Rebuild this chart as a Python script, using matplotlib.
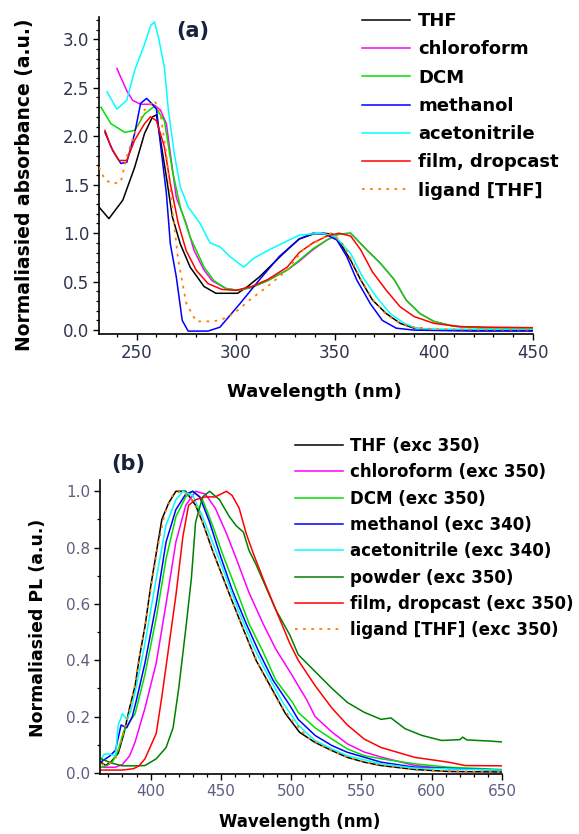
import numpy as np
import matplotlib
matplotlib.use("Agg")
import matplotlib.pyplot as plt
from matplotlib.ticker import MultipleLocator

plt.rcParams["font.family"] = ["DejaVu Sans"]

# ---------------- (a) absorbance ----------------
abs_labels = ["THF", "chloroform", "DCM", "methanol", "acetonitrile",
              "film, dropcast", "ligand [THF]"]

thf_wl = [231, 236, 243, 249, 254, 258, 260, 265, 268, 272, 277, 284, 290, 301, 306, 312,
          318, 324, 332, 339, 344, 349, 353, 358, 363, 369, 376, 383, 390, 400, 420, 450]
thf_abs = [1.27, 1.15, 1.34, 1.68, 2.03, 2.20, 2.22, 1.58, 1.17, 0.89, 0.65, 0.45, 0.38, 0.38,
           0.45, 0.55, 0.67, 0.79, 0.94, 0.99, 1.00, 0.99, 0.89, 0.72, 0.52, 0.31, 0.17, 0.07,
           0.02, 0.005, 0.0, 0.0]

chl_wl = [240, 245, 248, 252, 257, 259, 262, 265, 267, 270, 275, 279, 284, 288, 295, 301, 308,
          316, 326, 332, 339, 346, 352, 358, 366, 373, 380, 386, 393, 400, 410, 425, 450]
chl_abs = [2.70, 2.47, 2.37, 2.33, 2.33, 2.32, 2.27, 2.13, 1.82, 1.37, 1.10, 0.82, 0.62, 0.51,
           0.43, 0.41, 0.44, 0.51, 0.62, 0.71, 0.83, 0.93, 0.99, 1.00, 0.83, 0.69, 0.52, 0.31,
           0.17, 0.09, 0.04, 0.025, 0.02]

dcm_wl = [232, 237, 244, 249, 254, 259, 264, 268, 272, 277, 284, 289, 295, 301, 308, 316, 326,
          332, 339, 346, 352, 358, 366, 373, 380, 386, 393, 400, 410, 425, 450]
dcm_abs = [2.30, 2.13, 2.04, 2.06, 2.23, 2.31, 2.16, 1.65, 1.27, 0.96, 0.65, 0.51, 0.43, 0.41,
           0.44, 0.51, 0.62, 0.72, 0.84, 0.93, 0.99, 1.00, 0.83, 0.69, 0.52, 0.31, 0.17, 0.09,
           0.04, 0.02, 0.015]

meoh_wl = [234, 238, 242, 245, 249, 252, 255, 257, 260, 262, 265, 267, 270, 273, 276, 280, 286,
           292, 302, 312, 322, 332, 339, 345, 351, 356, 361, 368, 374, 381, 390, 420, 450]
meoh_abs = [2.04, 1.85, 1.72, 1.73, 2.03, 2.34, 2.39, 2.35, 2.28, 1.92, 1.41, 0.89, 0.55, 0.10,
            -0.01, -0.01, -0.01, 0.03, 0.27, 0.52, 0.76, 0.94, 1.00, 0.99, 0.93, 0.76, 0.52,
            0.27, 0.10, 0.02, 0.0, -0.01, -0.01]

acn_wl = [235, 240, 245, 249, 254, 257, 259, 261, 264, 266, 269, 272, 276, 282, 287, 292, 297,
          304, 309, 316, 322, 332, 343, 350, 358, 364, 371, 378, 385, 391, 400, 420, 450]
acn_abs = [2.46, 2.28, 2.37, 2.68, 2.95, 3.14, 3.18, 3.02, 2.71, 2.27, 1.82, 1.48, 1.27, 1.10,
           0.90, 0.86, 0.76, 0.65, 0.74, 0.82, 0.88, 0.98, 1.00, 0.97, 0.79, 0.55, 0.34, 0.17,
           0.07, 0.02, 0.01, 0.01, 0.01]

film_wl = [234, 237, 241, 245, 249, 254, 257, 260, 264, 267, 271, 275, 280, 286, 293, 300, 308,
           316, 326, 332, 339, 346, 352, 358, 363, 369, 376, 383, 390, 400, 413, 430, 450]
film_abs = [2.06, 1.89, 1.75, 1.75, 1.96, 2.13, 2.20, 2.16, 1.89, 1.51, 1.10, 0.82, 0.62, 0.48,
            0.42, 0.41, 0.45, 0.52, 0.65, 0.80, 0.90, 0.97, 1.00, 0.97, 0.83, 0.60, 0.41, 0.24,
            0.14, 0.07, 0.036, 0.03, 0.025]

lig_wl = [231, 234, 238, 242, 245, 249, 254, 259, 262, 265, 268, 271, 275, 280, 286, 292, 299,
          307, 316, 326, 334, 343, 348, 353, 358, 363, 369, 376, 383, 390, 400, 420, 450]
lig_abs = [1.68, 1.55, 1.51, 1.53, 1.79, 2.03, 2.27, 2.37, 2.23, 1.82, 1.24, 0.72, 0.28, 0.09,
           0.09, 0.10, 0.17, 0.31, 0.45, 0.62, 0.83, 0.94, 1.00, 0.92, 0.74, 0.53, 0.32, 0.16,
           0.07, 0.03, 0.01, 0.005, 0.005]

# ---------------- (b) photoluminescence ----------------
pl_labels = ["THF (exc 350)", "chloroform (exc 350)", "DCM (exc 350)", "methanol (exc 340)",
             "acetonitrile (exc 340)", "powder (exc 350)", "film, dropcast (exc 350)",
             "ligand [THF] (exc 350)"]

thf_pl_wl = [365, 368, 372, 377, 381, 385, 389, 392, 396, 400, 404, 408, 413, 418, 425, 432, 437,
             444, 451, 458, 466, 475, 485, 496, 506, 517, 529, 540, 552, 564, 588, 612, 650]
thf_pl = [0.037, 0.026, 0.04, 0.07, 0.14, 0.23, 0.31, 0.41, 0.52, 0.66, 0.78, 0.90, 0.96, 1.00,
          1.00, 0.95, 0.89, 0.79, 0.70, 0.61, 0.51, 0.40, 0.31, 0.21, 0.144, 0.108, 0.079, 0.055,
          0.038, 0.026, 0.012, 0.005, 0.003]

chl_pl_wl = [365, 375, 380, 385, 389, 396, 404, 411, 418, 425, 432, 439, 446, 454, 461, 470, 480,
             489, 499, 505, 511, 517, 529, 540, 552, 564, 588, 612, 650]
chl_pl = [0.02, 0.02, 0.03, 0.06, 0.11, 0.23, 0.39, 0.60, 0.82, 0.95, 1.00, 0.99, 0.94, 0.85,
          0.76, 0.64, 0.53, 0.44, 0.36, 0.31, 0.26, 0.20, 0.145, 0.103, 0.074, 0.056, 0.026,
          0.015, 0.01]

dcm_pl_wl = [365, 369, 373, 377, 381, 385, 389, 396, 404, 411, 418, 425, 430, 437, 444, 451, 461,
             470, 480, 489, 501, 505, 517, 529, 540, 552, 564, 588, 612, 650]
dcm_pl = [0.02, 0.026, 0.04, 0.08, 0.15, 0.18, 0.21, 0.35, 0.55, 0.76, 0.91, 0.98, 1.00, 0.97,
          0.88, 0.78, 0.65, 0.53, 0.43, 0.33, 0.25, 0.215, 0.16, 0.12, 0.085, 0.061, 0.05, 0.032,
          0.02, 0.012]

meoh_pl_wl = [365, 371, 375, 379, 383, 387, 390, 396, 404, 411, 418, 425, 430, 435, 442, 449, 458,
              468, 477, 487, 499, 505, 517, 529, 540, 564, 588, 650]
meoh_pl = [0.04, 0.06, 0.08, 0.17, 0.16, 0.20, 0.26, 0.39, 0.60, 0.82, 0.935, 0.99, 1.00, 0.98,
           0.89, 0.78, 0.65, 0.53, 0.43, 0.33, 0.24, 0.19, 0.133, 0.097, 0.073, 0.038, 0.02, 0.01]

acn_pl_wl = [365, 367, 371, 375, 377, 380, 383, 386, 390, 396, 404, 411, 418, 423, 430, 437, 444,
             454, 463, 473, 482, 494, 505, 517, 529, 540, 564, 588, 650]
acn_pl = [0.05, 0.067, 0.067, 0.06, 0.17, 0.21, 0.19, 0.22, 0.31, 0.46, 0.69, 0.88, 0.97, 1.00,
          0.985, 0.91, 0.82, 0.69, 0.57, 0.45, 0.36, 0.25, 0.17, 0.115, 0.085, 0.061, 0.032,
          0.017, 0.01]

pow_pl_wl = [365, 372, 380, 390, 396, 404, 411, 416, 420, 425, 429, 432, 437, 442, 449, 456, 461,
             466, 470, 475, 482, 489, 499, 505, 517, 529, 540, 552, 564, 571, 581, 593, 607, 620,
             622, 625, 641, 650]
pow_pl = [0.05, 0.035, 0.025, 0.025, 0.026, 0.05, 0.09, 0.16, 0.30, 0.51, 0.69, 0.89, 0.98, 1.00,
          0.97, 0.91, 0.877, 0.855, 0.79, 0.74, 0.66, 0.58, 0.49, 0.42, 0.36, 0.30, 0.25, 0.215,
          0.19, 0.195, 0.157, 0.133, 0.115, 0.118, 0.127, 0.117, 0.113, 0.11]

film_pl_wl = [365, 380, 388, 392, 396, 404, 408, 413, 418, 423, 427, 432, 439, 446, 454, 458, 463,
              468, 473, 480, 489, 499, 505, 517, 529, 540, 552, 564, 588, 612, 624, 650]
film_pl = [0.01, 0.01, 0.015, 0.026, 0.05, 0.14, 0.27, 0.45, 0.63, 0.84, 0.95, 0.97, 0.98, 0.98,
           1.00, 0.985, 0.94, 0.85, 0.78, 0.69, 0.58, 0.46, 0.40, 0.31, 0.23, 0.17, 0.12, 0.09,
           0.055, 0.038, 0.026, 0.025]

lig_pl_wl = [365, 370, 375, 380, 384, 388, 392, 396, 400, 405, 410, 416, 422, 428, 434, 440, 447,
             454, 462, 470, 480, 490, 500, 512, 525, 540, 555, 570, 590, 620, 650]
lig_pl = [0.03, 0.03, 0.05, 0.13, 0.20, 0.29, 0.41, 0.52, 0.65, 0.80, 0.92, 0.99, 1.00, 0.98,
          0.93, 0.85, 0.75, 0.66, 0.56, 0.46, 0.35, 0.26, 0.19, 0.125, 0.088, 0.055, 0.035,
          0.022, 0.01, 0.005, 0.003]

abs_series = [(thf_wl, thf_abs), (chl_wl, chl_abs), (dcm_wl, dcm_abs), (meoh_wl, meoh_abs),
              (acn_wl, acn_abs), (film_wl, film_abs), (lig_wl, lig_abs)]
abs_colors = ["#000000", "#ff00ff", "#00e000", "#0000ff", "#00ffff", "#ff0000", "#ff8000"]

pl_series = [(thf_pl_wl, thf_pl), (chl_pl_wl, chl_pl), (dcm_pl_wl, dcm_pl), (meoh_pl_wl, meoh_pl),
             (acn_pl_wl, acn_pl), (pow_pl_wl, pow_pl), (film_pl_wl, film_pl), (lig_pl_wl, lig_pl)]
pl_colors = ["#000000", "#ff00ff", "#00e000", "#0000ff", "#00ffff", "#008000", "#ff0000", "#ff8000"]

W, H = 579, 834
fig = plt.figure(figsize=(W / 100, H / 100), dpi=100)


def px_axes(left, top, right, bottom):
    return fig.add_axes([left / W, 1 - bottom / H, (right - left) / W, (bottom - top) / H])


def style_axes(ax, tick_size, tick_color):
    for side in ("top", "right"):
        ax.spines[side].set_visible(False)
    for side in ("left", "bottom"):
        ax.spines[side].set_linewidth(1.2)
    ax.tick_params(which="major", direction="out", length=4, width=1.0,
                   labelsize=tick_size, labelcolor=tick_color, pad=3)
    ax.tick_params(which="minor", direction="out", length=2.5, width=0.9)


def draw(ax, series, colors, labels):
    for (x, y), c, lab in zip(series, colors, labels):
        if lab.startswith("ligand"):
            ax.plot(x, y, color=c, lw=1.3, ls=(0, (1.5, 3)), label=lab, zorder=3)
        else:
            ax.plot(x, y, color=c, lw=1.1, label=lab, zorder=2)


# panel (a)
ax1 = px_axes(99, 17, 533, 334)
draw(ax1, abs_series, abs_colors, abs_labels)
ax1.set_xlim(231, 450)
ax1.set_ylim(-0.04, 3.23)
ax1.xaxis.set_major_locator(MultipleLocator(50))
ax1.xaxis.set_minor_locator(MultipleLocator(10))
ax1.yaxis.set_major_locator(MultipleLocator(0.5))
ax1.yaxis.set_minor_locator(MultipleLocator(0.1))
ax1.yaxis.set_major_formatter(matplotlib.ticker.FormatStrFormatter("%.1f"))
style_axes(ax1, 12, "#2e3450")
ax1.legend(loc="upper left", bbox_to_anchor=(362 / W, 1 - 12 / H), bbox_transform=fig.transFigure,
           frameon=False, borderpad=0, borderaxespad=0, labelspacing=0.57,
           handlelength=2.66, handletextpad=0.45, prop={"weight": "bold", "size": 13})

fig.text(25 / W, 1 - 185 / H, "Normaliasied absorbance (a.u.)", rotation=90,
         ha="center", va="center", fontsize=13.5, fontweight="bold")
fig.text(314 / W, 1 - 392 / H, "Wavelength (nm)", ha="center", va="center",
         fontsize=13, fontweight="bold")
fig.text(193 / W, 1 - 31 / H, "(a)", ha="center", va="center", fontsize=15,
         fontweight="bold", color="#1a1f3a")

# panel (b)
ax2 = px_axes(100, 480, 502, 774)
draw(ax2, pl_series, pl_colors, pl_labels)
ax2.set_xlim(364, 650)
ax2.set_ylim(-0.004, 1.04)
ax2.xaxis.set_major_locator(MultipleLocator(50))
ax2.xaxis.set_minor_locator(MultipleLocator(10))
ax2.yaxis.set_major_locator(MultipleLocator(0.2))
ax2.yaxis.set_minor_locator(MultipleLocator(0.1))
ax2.yaxis.set_major_formatter(matplotlib.ticker.FormatStrFormatter("%.1f"))
style_axes(ax2, 11, "#5c6080")
ax2.legend(loc="upper left", bbox_to_anchor=(295 / W, 1 - 437 / H), bbox_transform=fig.transFigure,
           frameon=False, borderpad=0, borderaxespad=0, labelspacing=0.5,
           handlelength=2.88, handletextpad=0.42, prop={"weight": "bold", "size": 12})

fig.text(38 / W, 1 - 628 / H, "Normaliasied PL (a.u.)", rotation=90,
         ha="center", va="center", fontsize=12.5, fontweight="bold")
fig.text(300 / W, 1 - 822 / H, "Wavelength (nm)", ha="center", va="center",
         fontsize=12, fontweight="bold")
fig.text(128 / W, 1 - 464 / H, "(b)", ha="center", va="center", fontsize=15,
         fontweight="bold", color="#1a1f3a")

fig.savefig("out.png", dpi=100)
